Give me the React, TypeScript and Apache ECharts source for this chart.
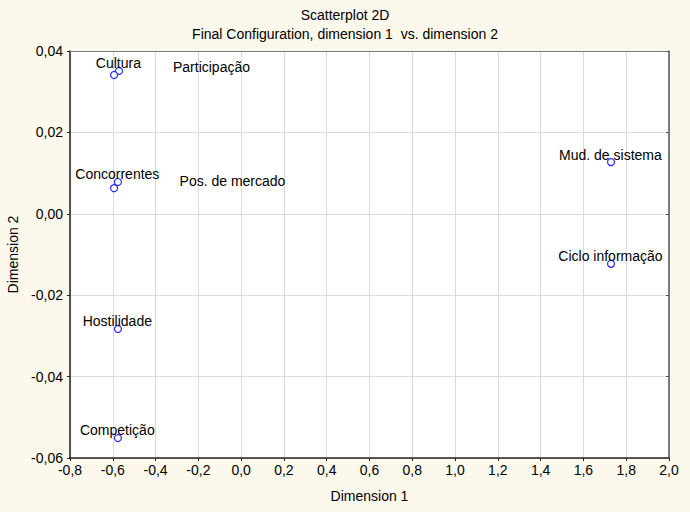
import React, { useEffect, useRef } from "react";
import * as echarts from "echarts";

const pointNames = [
  "Cultura",
  "Participação",
  "Concorrentes",
  "Pos. de mercado",
  "Hostilidade",
  "Competição",
  "Mud. de sistema",
  "Ciclo informação",
];
const dim1 = [-0.571, -0.594, -0.576, -0.594, -0.576, -0.576, 1.729, 1.729];
const dim2 = [0.0351, 0.0341, 0.0078, 0.0063, -0.0283, -0.0551, 0.0127, -0.0123];
// label displacement (px) used by the original layout for crowded labels
const labelOffsets: [number, number][] = [
  [0, -7],
  [98, -7],
  [0, -7],
  [119, -7],
  [0, -7],
  [0, -7],
  [0, -7],
  [0, -7],
];

const FONT = "'Liberation Sans', Arial, sans-serif";
const FS = 14;
const SYM = 7;
const fmt = (v: number, d: number) => v.toFixed(d).replace(".", ",").replace(/^-0,0+$/, (s) => s.slice(1));

export default function App() {
  const ref = useRef<HTMLDivElement>(null);
  useEffect(() => {
    if (!ref.current) return;
    const chart = echarts.init(ref.current, undefined, { renderer: "svg" });
    const data = pointNames.map((n, i) => ({
      name: n,
      value: [dim1[i], dim2[i]],
      label: {
        position: [SYM / 2 + labelOffsets[i][0], SYM / 2 + labelOffsets[i][1]],
        align: "center",
        verticalAlign: "middle",
      },
    }));
    chart.setOption({
      animation: false,
      backgroundColor: "#fdf8ec",
      textStyle: { fontFamily: FONT },
      title: {
        text: "Scatterplot 2D\nFinal Configuration, dimension 1  vs. dimension 2",
        left: "center",
        top: 0,
        textStyle: {
          fontFamily: FONT,
          fontSize: FS,
          fontWeight: "normal",
          color: "#000",
          lineHeight: 19,
        },
      },
      grid: {
        left: 70,
        right: 21,
        top: 51,
        bottom: 54,
        backgroundColor: "#fff",
        show: true,
        borderWidth: 0,
        containLabel: false,
        outerBoundsMode: "none",
      },
      xAxis: [
        {
          type: "value",
          min: -0.8,
          max: 2.0,
          interval: 0.2,
          name: "Dimension 1",
          nameLocation: "middle",
          nameGap: 31,
          nameTextStyle: { fontFamily: FONT, fontSize: FS, color: "#000" },
          axisLine: { show: true, onZero: false, lineStyle: { color: "#222", width: 1.5 } },
          axisTick: { show: true, inside: false, length: 3, lineStyle: { color: "#222" } },
          axisLabel: {
            fontFamily: FONT,
            fontSize: FS,
            color: "#000",
            margin: 5,
            formatter: (v: number) => fmt(v, 1),
          },
          splitLine: { show: true, lineStyle: { color: "#dcdcdc", width: 1 } },
        },
        {
          type: "value",
          position: "top",
          min: -0.8,
          max: 2.0,
          interval: 0.2,
          axisLine: { show: true, onZero: false, lineStyle: { color: "#777", width: 1 } },
          axisTick: { show: false },
          axisLabel: { show: false },
          splitLine: { show: false },
        },
      ],
      yAxis: [
        {
          type: "value",
          min: -0.06,
          max: 0.04,
          interval: 0.02,
          name: "Dimension 2",
          nameLocation: "middle",
          nameGap: 50,
          nameTextStyle: { fontFamily: FONT, fontSize: FS, color: "#000" },
          axisLine: { show: true, onZero: false, lineStyle: { color: "#222", width: 1.5 } },
          axisTick: { show: true, inside: false, length: 3, lineStyle: { color: "#222" } },
          axisLabel: {
            fontFamily: FONT,
            fontSize: FS,
            color: "#000",
            margin: 7,
            formatter: (v: number) => fmt(v, 2),
          },
          splitLine: { show: true, lineStyle: { color: "#dcdcdc", width: 1 } },
        },
        {
          type: "value",
          position: "right",
          min: -0.06,
          max: 0.04,
          interval: 0.02,
          axisLine: { show: true, onZero: false, lineStyle: { color: "#555", width: 1.5 } },
          axisTick: { show: true, inside: true, length: 3, lineStyle: { color: "#555" } },
          axisLabel: { show: false },
          splitLine: { show: false },
        },
      ],
      series: [
        {
          type: "scatter",
          xAxisIndex: 0,
          yAxisIndex: 0,
          symbol: "circle",
          symbolSize: SYM,
          itemStyle: { color: "#ffffff", borderColor: "#2a2aff", borderWidth: 1.2, opacity: 1 },
          label: {
            show: true,
            formatter: "{b}",
            fontFamily: FONT,
            fontSize: FS,
            color: "#000",
          },
          labelLayout: { hideOverlap: false },
          data,
        },
      ],
    });
    return () => chart.dispose();
  }, []);
  return (
    <div
      ref={ref}
      style={{ position: "fixed", left: 0, top: 0, width: 690, height: 512 }}
    />
  );
}
